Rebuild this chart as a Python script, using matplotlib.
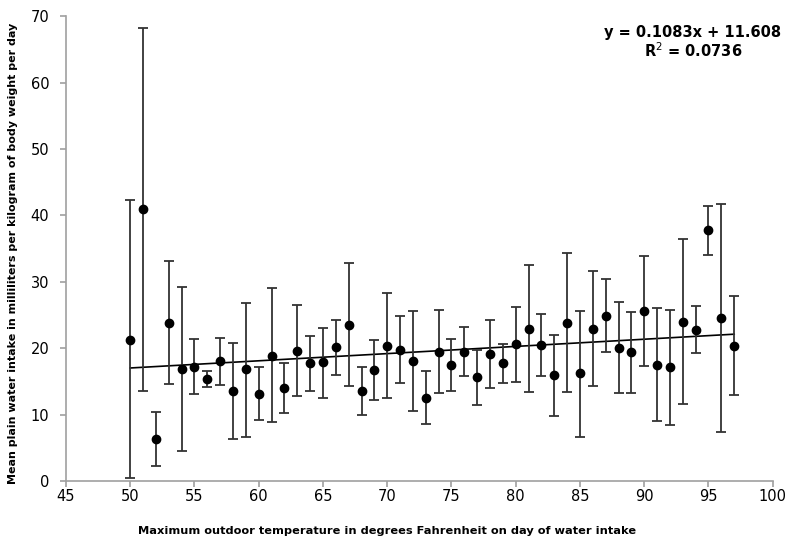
import numpy as np
import matplotlib
matplotlib.use("Agg")
import matplotlib.pyplot as plt

# Temperature (F) and mean plain water intake (ml/kg/day), with error bar ends
temps = np.arange(50, 98)
means = [21.3, 41.0, 6.3, 23.8, 16.9, 17.2, 15.4, 18.1, 13.6, 16.8,
         13.1, 18.9, 14.0, 19.6, 17.7, 17.9, 20.2, 23.5, 13.6, 16.7,
         20.4, 19.8, 18.1, 12.5, 19.5, 17.5, 19.5, 15.6, 19.1, 17.7,
         20.6, 22.9, 20.5, 16.0, 23.8, 16.2, 22.9, 24.9, 20.1, 19.4,
         25.6, 17.5, 17.1, 24.0, 22.8, 37.8, 24.5, 20.4]
upper = [42.3, 68.3, 10.4, 33.2, 29.2, 21.4, 16.5, 21.6, 20.8, 26.8,
         17.1, 29.0, 17.7, 26.5, 21.8, 23.1, 24.3, 32.8, 17.1, 21.2,
         28.3, 24.9, 25.6, 16.5, 25.8, 21.4, 23.2, 19.7, 24.2, 20.6,
         26.2, 32.5, 25.2, 22.0, 34.3, 25.6, 31.6, 30.4, 26.9, 25.5,
         33.9, 26.0, 25.8, 36.4, 26.4, 41.4, 41.7, 27.8]
lower = [0.5, 13.6, 2.2, 14.6, 4.5, 13.1, 14.2, 14.5, 6.3, 6.7,
         9.2, 8.9, 10.2, 12.8, 13.6, 12.5, 16.0, 14.3, 10.0, 12.2,
         12.5, 14.7, 10.6, 8.6, 13.2, 13.6, 15.8, 11.4, 14.0, 14.7,
         14.9, 13.4, 15.8, 9.8, 13.4, 6.7, 14.3, 19.4, 13.2, 13.3,
         17.3, 9.1, 8.5, 11.6, 19.3, 34.0, 7.4, 12.9]

slope, intercept = 0.1083, 11.608
r2 = 0.0736

means = np.array(means)
yerr = [means - np.array(lower), np.array(upper) - means]

fig = plt.figure(figsize=(7.95, 5.52), dpi=100)
ax = fig.add_axes([0.083, 0.1286, 0.889, 0.842])

ax.errorbar(temps, means, yerr=yerr, fmt="o", color="black", markersize=6,
            ecolor="#333333", elinewidth=1.3, capsize=3.5, capthick=1.3, zorder=3)

trend_x = np.array([temps[0], temps[-1]])
ax.plot(trend_x, slope * trend_x + intercept, color="black", linewidth=1.2, zorder=2)

ax.set_xlim(45, 100)
ax.set_ylim(0, 70)
ax.set_xticks(np.arange(45, 101, 5))
ax.set_yticks(np.arange(0, 71, 10))

for side in ["top", "right"]:
    ax.spines[side].set_visible(False)
for side in ["left", "bottom"]:
    ax.spines[side].set_color("#a0a0a0")
    ax.spines[side].set_linewidth(1.2)
ax.tick_params(axis="both", colors="#a0a0a0", labelcolor="black",
               labelsize=10.5, length=4, width=1.2)
ax.tick_params(axis="x", pad=2)
ax.tick_params(axis="y", pad=8)

ax.set_xlabel("Maximum outdoor temperature in degrees Fahrenheit on day of water intake",
              fontsize=8.2, fontweight="bold")
ax.set_ylabel("Mean plain water intake in milliliters per kilogram of body weight per day",
              fontsize=8, fontweight="bold")
ax.xaxis.set_label_coords(0.455, -0.097)
ax.yaxis.set_label_coords(-0.068, 0.49)

ax.text(0.887, 0.965, f"y = {slope}x + {intercept}", transform=ax.transAxes,
        ha="center", va="center", fontsize=10.5, fontweight="bold")
ax.text(0.887, 0.925, f"R$^2$ = {r2}", transform=ax.transAxes,
        ha="center", va="center", fontsize=10.5, fontweight="bold")

fig.savefig("out.png", dpi=100)
